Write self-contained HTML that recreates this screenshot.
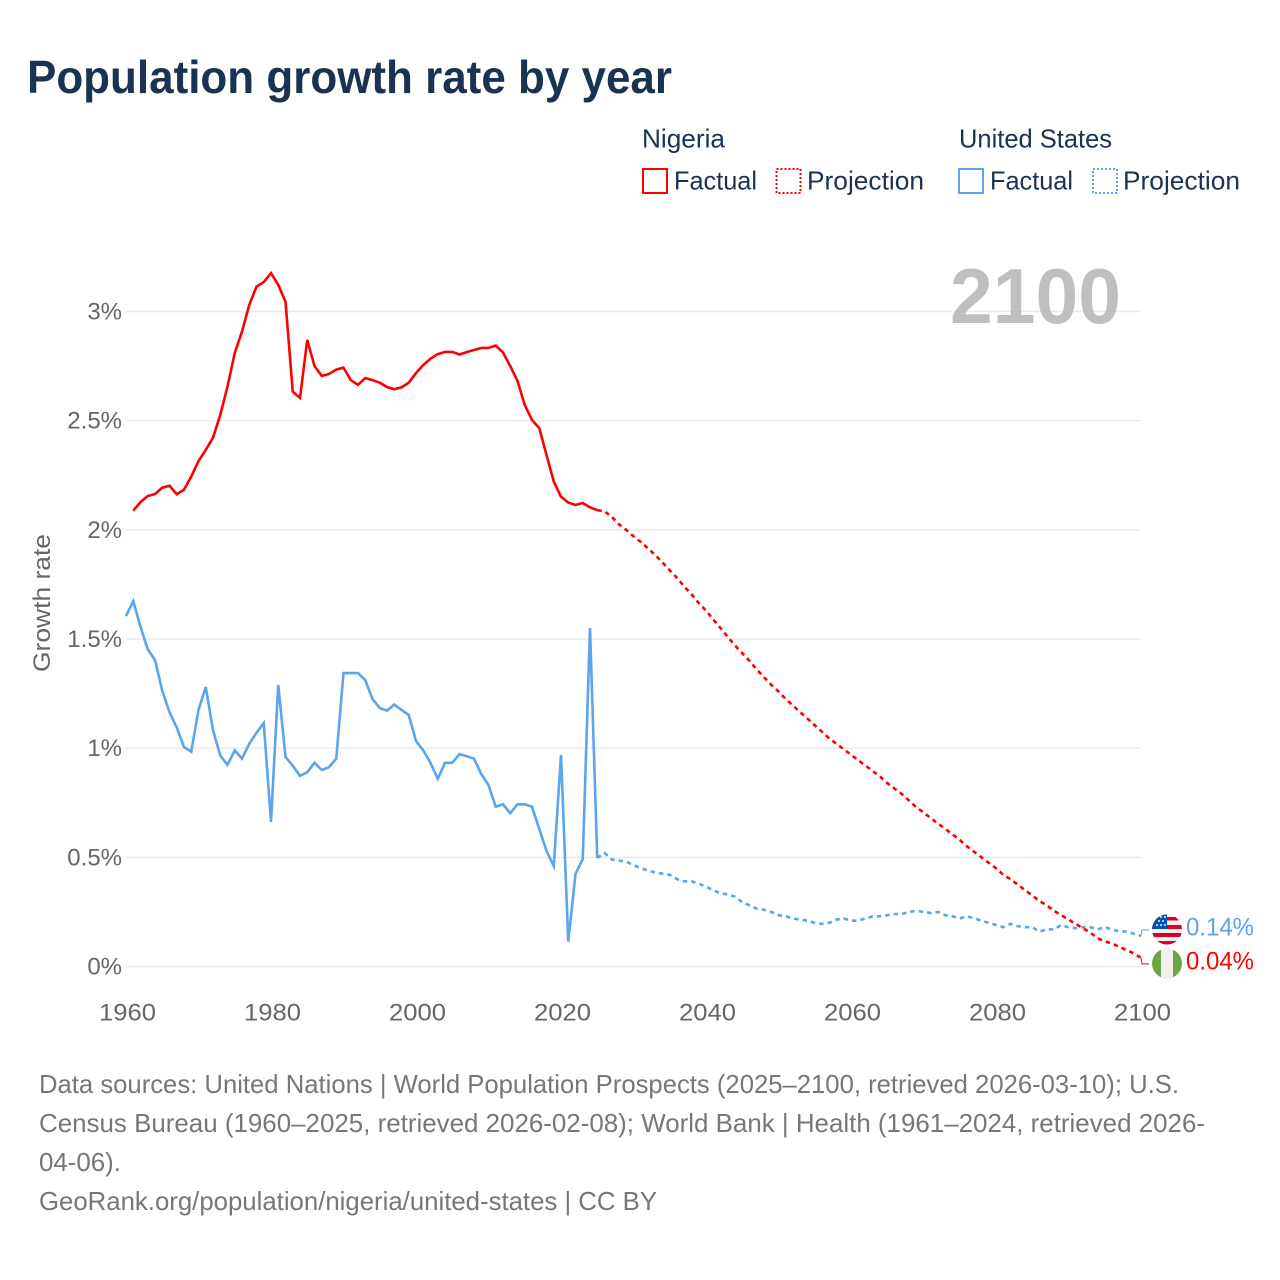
<!DOCTYPE html>
<html lang="en">
<head>
<meta charset="utf-8">
<title>Population growth rate by year</title>
<style>
html,body{margin:0;padding:0;background:#fff;}
svg{display:block;font-family:"Liberation Sans",sans-serif;}
</style>
</head>
<body>
<svg id="chart" width="1280" height="1280" viewBox="0 0 1280 1280" xmlns="http://www.w3.org/2000/svg">
  <defs>
    <clipPath id="us-clip"><circle cx="1167" cy="929.5" r="15"/></clipPath>
    <clipPath id="ng-clip"><circle cx="1167" cy="963.5" r="15"/></clipPath>
  </defs>
  <rect width="1280" height="1280" fill="#ffffff"/>

  <text x="27" y="93" font-size="46" font-weight="700" fill="#1a3352" textLength="645" lengthAdjust="spacingAndGlyphs">Population growth rate by year</text>

  <g font-size="26" fill="#1a3352">
    <text x="642" y="147.5" textLength="83" lengthAdjust="spacingAndGlyphs">Nigeria</text>
    <text x="959" y="147.5" textLength="153" lengthAdjust="spacingAndGlyphs">United States</text>
    <rect x="643" y="169" width="24" height="24" fill="none" stroke="#ff0000" stroke-width="2"/>
    <text x="674" y="189.5" textLength="83" lengthAdjust="spacingAndGlyphs">Factual</text>
    <rect x="776.5" y="169" width="24" height="24" fill="none" stroke="#ff0000" stroke-width="2" stroke-dasharray="2,2"/>
    <text x="807" y="189.5" textLength="117" lengthAdjust="spacingAndGlyphs">Projection</text>
    <rect x="959" y="169" width="24" height="24" fill="none" stroke="#5ba4ee" stroke-width="2"/>
    <text x="990" y="189.5" textLength="83" lengthAdjust="spacingAndGlyphs">Factual</text>
    <rect x="1093" y="169" width="24" height="24" fill="none" stroke="#5ba4ee" stroke-width="2" stroke-dasharray="2,2"/>
    <text x="1123" y="189.5" textLength="117" lengthAdjust="spacingAndGlyphs">Projection</text>
  </g>

  <g id="grid"></g>
  <g id="y-ticks" font-size="24" fill="#666666" text-anchor="end"></g>
  <g id="x-ticks" font-size="24" fill="#666666" text-anchor="middle"></g>

  <text transform="translate(50,603) rotate(-90)" font-size="24" fill="#666666" text-anchor="middle" textLength="138" lengthAdjust="spacingAndGlyphs">Growth rate</text>

  <text id="year-label" x="950" y="323" font-size="78" font-weight="700" fill="#bfbfbf" textLength="171" lengthAdjust="spacingAndGlyphs">2100</text>

  <g id="series"></g>

  <g id="flag-us" clip-path="url(#us-clip)">
    <rect x="1152" y="914" width="30" height="31" fill="#f0f0f0"/>
    <rect x="1152" y="917" width="30" height="3.5" fill="#d80027"/>
    <rect x="1152" y="925" width="30" height="4" fill="#d80027"/>
    <rect x="1152" y="933" width="30" height="4" fill="#d80027"/>
    <rect x="1152" y="941" width="30" height="4" fill="#d80027"/>
    <rect x="1152" y="914" width="15" height="15" fill="#0052b4"/>
    <g fill="#f0f0f0">
      <circle cx="1157" cy="925" r="1"/><circle cx="1161" cy="925" r="1"/><circle cx="1165" cy="925" r="1"/>
      <circle cx="1159" cy="921" r="1"/><circle cx="1163" cy="921" r="1"/>
      <circle cx="1161" cy="917" r="1"/><circle cx="1165" cy="917" r="1"/>
    </g>
  </g>
  <g id="flag-ng" clip-path="url(#ng-clip)">
    <rect x="1152" y="948" width="30" height="31" fill="#6da544"/>
    <rect x="1161" y="948" width="12" height="31" fill="#f0f0f0"/>
  </g>

  <g id="end-labels" font-size="25"></g>

  <g font-size="26" fill="#777777">
    <text x="39" y="1093" textLength="1140" lengthAdjust="spacingAndGlyphs">Data sources: United Nations | World Population Prospects (2025–2100, retrieved 2026-03-10); U.S.</text>
    <text x="39" y="1132" textLength="1166" lengthAdjust="spacingAndGlyphs">Census Bureau (1960–2025, retrieved 2026-02-08); World Bank | Health (1961–2024, retrieved 2026-</text>
    <text x="39" y="1171" textLength="82" lengthAdjust="spacingAndGlyphs">04-06).</text>
    <text x="39" y="1210" textLength="618" lengthAdjust="spacingAndGlyphs">GeoRank.org/population/nigeria/united-states | CC BY</text>
  </g>
</svg>

<script>
const yTickValues = [0, 0.5, 1, 1.5, 2, 2.5, 3];
const xTickYears = [1960, 1980, 2000, 2020, 2040, 2060, 2080, 2100];

const nigeriaFactualStart = 1961;
const nigeriaFactual = [
  2.088,2.127,2.155,2.164,2.193,2.202,2.163,2.184,2.244,2.315,
  2.366,2.422,2.526,2.656,2.81,2.908,3.03,3.114,3.135,3.176,
  3.122,3.045,2.633,2.604,2.87,2.75,2.705,2.714,2.734,2.743,
  2.686,2.664,2.695,2.686,2.674,2.654,2.644,2.653,2.674,2.718,
  2.755,2.784,2.805,2.815,2.815,2.803,2.814,2.824,2.833,2.833,
  2.844,2.812,2.75,2.682,2.572,2.503,2.466,2.343,2.221,2.152,
  2.125,2.114,2.123,2.103,2.09
];
const nigeriaProjectionStart = 2025;
const nigeriaProjection = [
  2.09,2.085,2.06,2.025,2.0,1.97,1.945,1.915,1.885,1.85,1.815,
  1.78,1.74,1.705,1.665,1.63,1.59,1.55,1.51,1.47,1.435,
  1.40,1.36,1.325,1.29,1.26,1.225,1.195,1.165,1.135,1.105,
  1.075,1.045,1.02,0.995,0.97,0.945,0.92,0.895,0.87,0.84,
  0.815,0.79,0.76,0.73,0.705,0.68,0.655,0.63,0.605,0.58,
  0.55,0.525,0.50,0.475,0.45,0.42,0.40,0.375,0.35,0.325,
  0.30,0.28,0.255,0.235,0.215,0.195,0.175,0.155,0.13,0.115,
  0.105,0.09,0.075,0.06,0.04
];
const usFactualStart = 1960;
const usFactual = [
  1.605,1.674,1.556,1.453,1.404,1.263,1.165,1.094,1.005,0.984,
  1.175,1.28,1.083,0.966,0.923,0.99,0.952,1.02,1.07,1.115,
  0.663,1.29,0.96,0.92,0.873,0.89,0.933,0.90,0.913,0.952,
  1.344,1.344,1.344,1.312,1.225,1.184,1.172,1.20,1.175,1.152,
  1.033,0.99,0.933,0.86,0.933,0.933,0.973,0.963,0.952,0.882,
  0.831,0.732,0.743,0.702,0.743,0.743,0.732,0.63,0.53,0.46,
  0.969,0.114,0.424,0.492,1.55,0.497
];
const usProjectionStart = 2025;
const usProjection = [
  0.497,0.52,0.49,0.485,0.48,0.465,0.45,0.44,0.43,0.425,0.42,
  0.40,0.39,0.39,0.38,0.365,0.35,0.335,0.33,0.32,0.295,
  0.28,0.265,0.26,0.25,0.235,0.23,0.22,0.215,0.21,0.20,
  0.195,0.20,0.215,0.22,0.21,0.21,0.22,0.23,0.23,0.235,
  0.24,0.24,0.25,0.255,0.25,0.245,0.25,0.235,0.23,0.22,
  0.23,0.22,0.21,0.20,0.19,0.18,0.195,0.185,0.18,0.18,
  0.16,0.17,0.17,0.19,0.18,0.175,0.18,0.18,0.17,0.18,
  0.17,0.16,0.16,0.15,0.14
];

const NS = 'http://www.w3.org/2000/svg';
const xAxisMin = 1960, xAxisMax = 2100;
const plotLeft = 126, plotRight = 1141, plotZero = 966.5, pxPerPercent = 218.33;
function xScale(year) { return plotLeft + (year - xAxisMin) * (plotRight - plotLeft) / (xAxisMax - xAxisMin); }
function yScale(value) { return plotZero - value * pxPerPercent; }
function make(tag, parent) { const el = document.createElementNS(NS, tag); parent.appendChild(el); return el; }
function linePath(startYear, values) {
  return values.map(function (v, i) {
    return (i ? 'L' : 'M') + xScale(startYear + i).toFixed(2) + ' ' + yScale(v).toFixed(2);
  }).join(' ');
}

const gridGroup = document.getElementById('grid');
const yTickGroup = document.getElementById('y-ticks');
yTickValues.forEach(function (v) {
  const line = make('line', gridGroup);
  
  
  line.setAttribute('x1', plotLeft);
  line.setAttribute('x2', plotRight);
  line.setAttribute('y1', yScale(v));
  line.setAttribute('y2', yScale(v));
  line.setAttribute('stroke', '#ebebeb');
  line.setAttribute('stroke-width', '1.5');
  const label = make('text', yTickGroup);
  
  
  label.setAttribute('x', 122);
  label.setAttribute('y', yScale(v) + 8);
  label.textContent = v + '%';
});

const xTickGroup = document.getElementById('x-ticks');
xTickYears.forEach(function (year) {
  const label = make('text', xTickGroup);
  
  
  label.setAttribute('x', xScale(year) + 1.5);
  label.setAttribute('y', 1020.5);
  label.setAttribute('textLength', 57);
  label.setAttribute('lengthAdjust', 'spacingAndGlyphs');
  label.textContent = year;
});

const seriesGroup = document.getElementById('series');
function drawSeries(name, startYear, values, color, dashed) {
  const path = make('path', seriesGroup);
  
  
  path.setAttribute('d', linePath(startYear, values));
  path.setAttribute('fill', 'none');
  path.setAttribute('stroke', color);
  path.setAttribute('stroke-width', '2.6');
  path.setAttribute('stroke-linejoin', 'miter');
  if (dashed) path.setAttribute('stroke-dasharray', '4.5,4');
}
const usColor = '#5ba4ee', ngColor = '#ff0000';
drawSeries('line-us-factual', usFactualStart, usFactual, usColor, false);
drawSeries('line-us-projection', usProjectionStart, usProjection, usColor, true);
drawSeries('line-nigeria-factual', nigeriaFactualStart, nigeriaFactual, ngColor, false);
drawSeries('line-nigeria-projection', nigeriaProjectionStart, nigeriaProjection, ngColor, true);

const usEnd = usProjection[usProjection.length - 1];
const ngEnd = nigeriaProjection[nigeriaProjection.length - 1];
const endMid = (yScale(usEnd) + yScale(ngEnd)) / 2;
const labelGap = 17;
const usLabelY = Math.min(endMid - labelGap, yScale(usEnd));
const ngLabelY = Math.max(endMid + labelGap, yScale(ngEnd));

function drawEnd(name, value, labelY, color) {
  const group = document.getElementById('end-labels');
  const connector = make('path', group);
  
  
  connector.setAttribute('d', 'M' + plotRight + ' ' + yScale(value) + ' L' + (plotRight + 1) + ' ' + labelY + ' L' + (plotRight + 8) + ' ' + labelY);
  connector.setAttribute('fill', 'none');
  connector.setAttribute('stroke', color);
  connector.setAttribute('stroke-width', '1');
  const label = make('text', group);
  
  
  label.setAttribute('x', 1186);
  label.setAttribute('y', labelY + 5.5);
  label.setAttribute('fill', color);
  label.setAttribute('textLength', 68);
  label.setAttribute('lengthAdjust', 'spacingAndGlyphs');
  label.textContent = value.toFixed(2) + '%';
}
drawEnd('us', usEnd, usLabelY, usColor);
drawEnd('nigeria', ngEnd, ngLabelY, ngColor);
</script>
</body>
</html>
